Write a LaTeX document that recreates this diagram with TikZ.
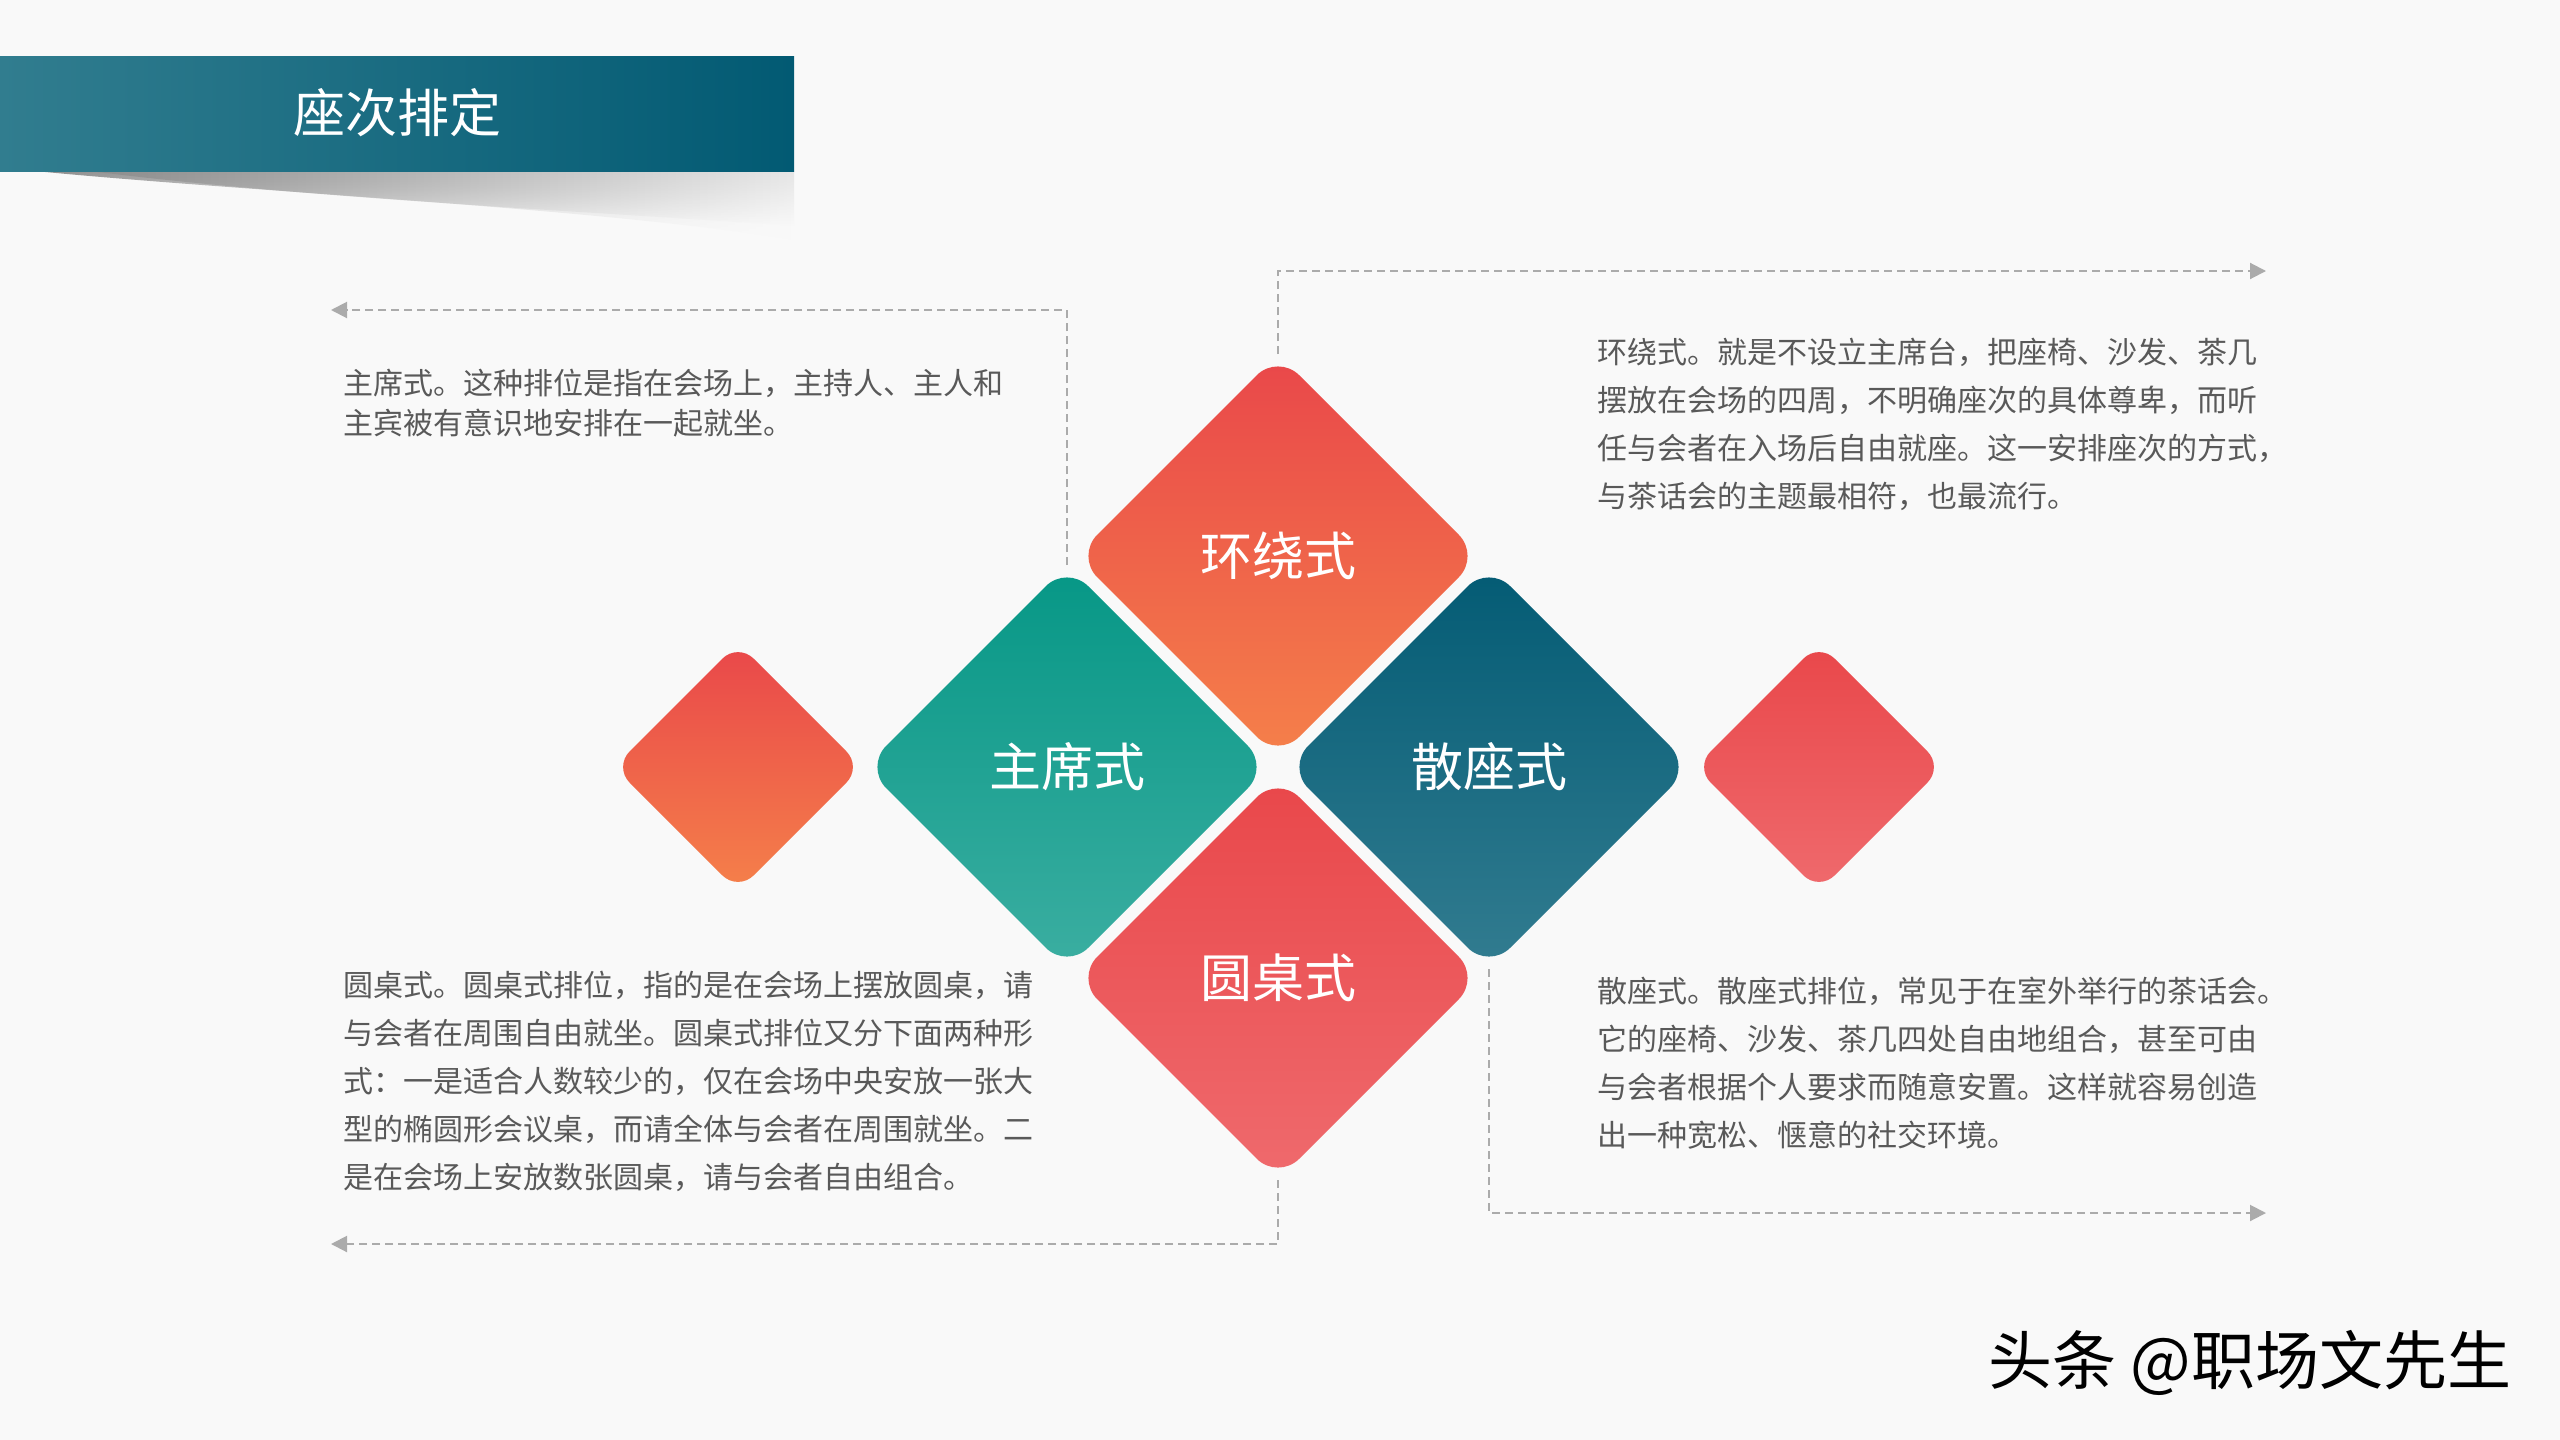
\documentclass[tikz,border=0pt]{standalone}
\usepackage{fontspec}
\setmainfont{Noto Sans CJK SC}
\usetikzlibrary{shapes.geometric,arrows.meta,fadings}
\definecolor{bgc}{HTML}{F9F9F9}
\definecolor{txt}{HTML}{595959}
\definecolor{conc}{HTML}{ABABAB}
\definecolor{barL}{HTML}{317D8F}
\definecolor{barR}{HTML}{025A73}
\definecolor{redT}{HTML}{E9474A}
\definecolor{orB}{HTML}{F5804A}
\definecolor{pinkB}{HTML}{EF6A6D}
\definecolor{tealT}{HTML}{069786}
\definecolor{tealB}{HTML}{3BAEA1}
\definecolor{navyT}{HTML}{035B74}
\definecolor{navyB}{HTML}{327C90}
\tikzset{
  bigdia/.style={diamond, aspect=1, minimum width=202pt, minimum height=202pt,
    inner sep=0pt, outer sep=0pt, rounded corners=15pt, text=white,
    font=\fontsize{26}{30}\selectfont},
  smalldia/.style={diamond, aspect=1, minimum width=124pt, minimum height=124pt,
    inner sep=0pt, outer sep=0pt, rounded corners=11pt},
  body/.style={anchor=base west, inner sep=0pt, align=left, text=txt},
  conn/.style={draw=conc, line width=1pt, dash pattern=on 4pt off 2.5pt,
    -{Triangle[length=8pt,width=8pt]}},
}
\begin{document}
\begin{tikzpicture}[x=0.5pt,y=-0.5pt]
\fill[bgc] (0,0) rectangle (2560,1440);
\useasboundingbox (0,0) rectangle (2560,1440);
% shadow of the title bar
\shade[left color=black!45, right color=bgc, path fading=south]
  (35,171) .. controls (250,192) and (600,208) .. (794,240) -- (794,171) -- cycle;
\shade[left color=black!45, right color=black!10, path fading=south]
  (90,171) .. controls (300,198) and (600,212) .. (794,226) -- (794,171) -- cycle;
% title bar
\shade[left color=barL, right color=barR] (0,56) rectangle (794,171);
\node[text=white, font=\fontsize{26}{30}\selectfont, inner sep=0pt] (title) at (397,113) {座次排定};

% diamonds
\node[smalldia, top color=redT, bottom color=orB] (sl) at (738,767) {};
\node[smalldia, top color=redT, bottom color=pinkB] (sr) at (1819,767) {};
\node[bigdia, top color=redT, bottom color=orB] (hr) at (1278,556) {环绕式};
\node[bigdia, top color=tealT, bottom color=tealB] (zx) at (1067,767) {主席式};
\node[bigdia, top color=navyT, bottom color=navyB] (sz) at (1489,767) {散座式};
\node[bigdia, top color=redT, bottom color=pinkB] (yz) at (1278,978) {圆桌式};

% connector ends
\coordinate (e1) at (331,310);
\coordinate (e2) at (2266,271);
\coordinate (e3) at (331,1244);
\coordinate (e4) at (2266,1213);
\draw[conn] (zx.north) |- (e1);
\draw[conn] (hr.north) |- (e2);
\draw[conn] (yz.south) |- (e3);
\draw[conn] (sz.south) |- (e4);

% text blocks (anchored at the baseline of their last line)
\node[body, font=\fontsize{15}{20}\selectfont] (t1) at (343,434)
  {主席式。这种排位是指在会场上，主持人、主人和\\主宾被有意识地安排在一起就坐。};
\node[body, font=\fontsize{15}{24}\selectfont] (t2) at (1597,507)
  {环绕式。就是不设立主席台，把座椅、沙发、茶几\\摆放在会场的四周，不明确座次的具体尊卑，而听\\任与会者在入场后自由就座。这一安排座次的方式，\\与茶话会的主题最相符，也最流行。};
\node[body, font=\fontsize{15}{24}\selectfont] (t3) at (343,1188)
  {圆桌式。圆桌式排位，指的是在会场上摆放圆桌，请\\与会者在周围自由就坐。圆桌式排位又分下面两种形\\式：一是适合人数较少的，仅在会场中央安放一张大\\型的椭圆形会议桌，而请全体与会者在周围就坐。二\\是在会场上安放数张圆桌，请与会者自由组合。};
\node[body, font=\fontsize{15}{24}\selectfont] (t4) at (1597,1146)
  {散座式。散座式排位，常见于在室外举行的茶话会。\\它的座椅、沙发、茶几四处自由地组合，甚至可由\\与会者根据个人要求而随意安置。这样就容易创造\\出一种宽松、惬意的社交环境。};

% watermark
\node[text=black, font=\fontsize{32}{36}\selectfont, inner sep=0pt] (wm) at (2250,1363) {头条 @职场文先生};
\end{tikzpicture}
\end{document}
